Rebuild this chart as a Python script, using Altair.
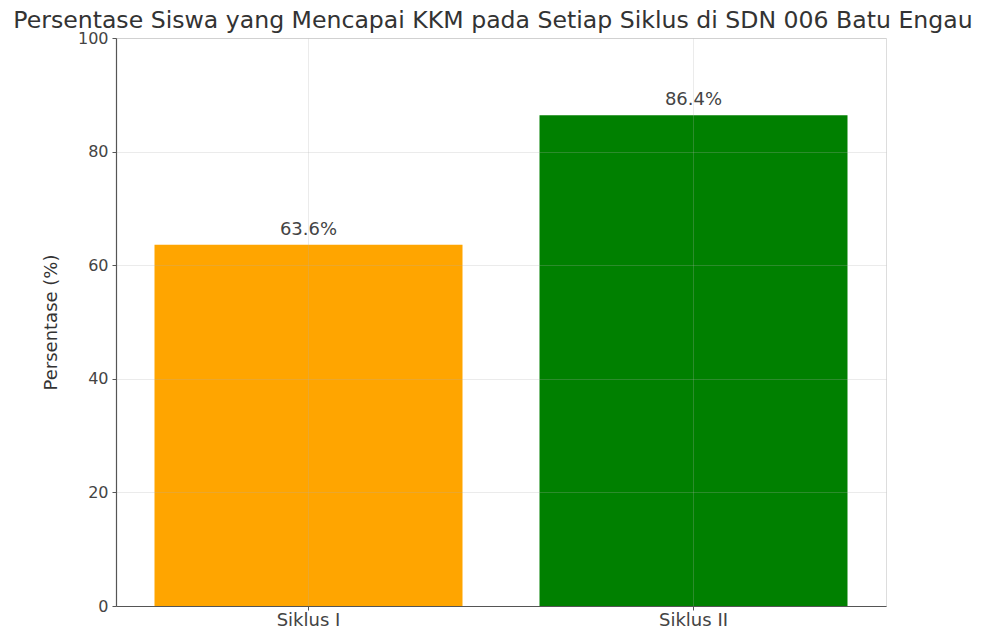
import altair as alt
import pandas as pd

categories = ["Siklus I", "Siklus II"]
values = [63.6, 86.4]
colors = ["#FFA500", "#008000"]
y_ticks = [0, 20, 40, 60, 80, 100]

df = pd.DataFrame({"Siklus": categories, "Persentase": values})

FONT = "DejaVu Sans"

x_enc = alt.X(
    "Siklus:N",
    sort=categories,
    title=None,
    scale=alt.Scale(paddingInner=0.2, paddingOuter=0.1),
    axis=alt.Axis(
        labelAngle=0, labelFont=FONT, labelFontSize=18, labelColor="#444444",
        labelPadding=1, tickSize=4, tickColor="#555555", domainColor="#555555",
        domainWidth=1.2, grid=True, gridColor="#b0b0b0", gridOpacity=0.25,
        bandPosition=0.5, zindex=1,
    ),
)
y_enc = alt.Y(
    "Persentase:Q",
    scale=alt.Scale(domain=[0, 100], nice=False),
    title="Persentase (%)",
    axis=alt.Axis(
        values=y_ticks, labelFont=FONT, labelFontSize=16, labelColor="#444444",
        labelPadding=4, tickSize=4, tickColor="#555555", domainColor="#555555",
        domainWidth=1.2, grid=True, gridColor="#b0b0b0", gridOpacity=0.25,
        titleFont=FONT, titleFontSize=18, titleFontWeight="normal",
        titleColor="#333333", titleX=-56, titleAnchor="middle", zindex=1,
    ),
)

bars = alt.Chart(df).mark_bar().encode(
    x=x_enc,
    y=y_enc,
    color=alt.Color("Siklus:N", scale=alt.Scale(domain=categories, range=colors), legend=None),
)

labels = alt.Chart(df).transform_calculate(
    label="format(datum.Persentase, '.1f') + '%'"
).mark_text(
    font=FONT, fontSize=18, color="#444444", baseline="alphabetic", dy=-10
).encode(
    x=alt.X("Siklus:N", sort=categories),
    y=alt.Y("Persentase:Q"),
    text="label:N",
)

chart = alt.layer(bars, labels).properties(
    width=770,
    height=568,
    title=alt.TitleParams(
        "Persentase Siswa yang Mencapai KKM pada Setiap Siklus di SDN 006 Batu Engau",
        font=FONT, fontSize=23.6, fontWeight="normal", color="#333333",
        anchor="middle", frame="group", offset=-3, dx=-8,
    ),
    padding={"left": 108, "top": 30, "right": 102, "bottom": 26},
    autosize=alt.AutoSizeParams(type="none"),
).configure_view(stroke=None).configure(background="white")

chart.save("out.html", embed_options={"renderer": "svg", "actions": False})
